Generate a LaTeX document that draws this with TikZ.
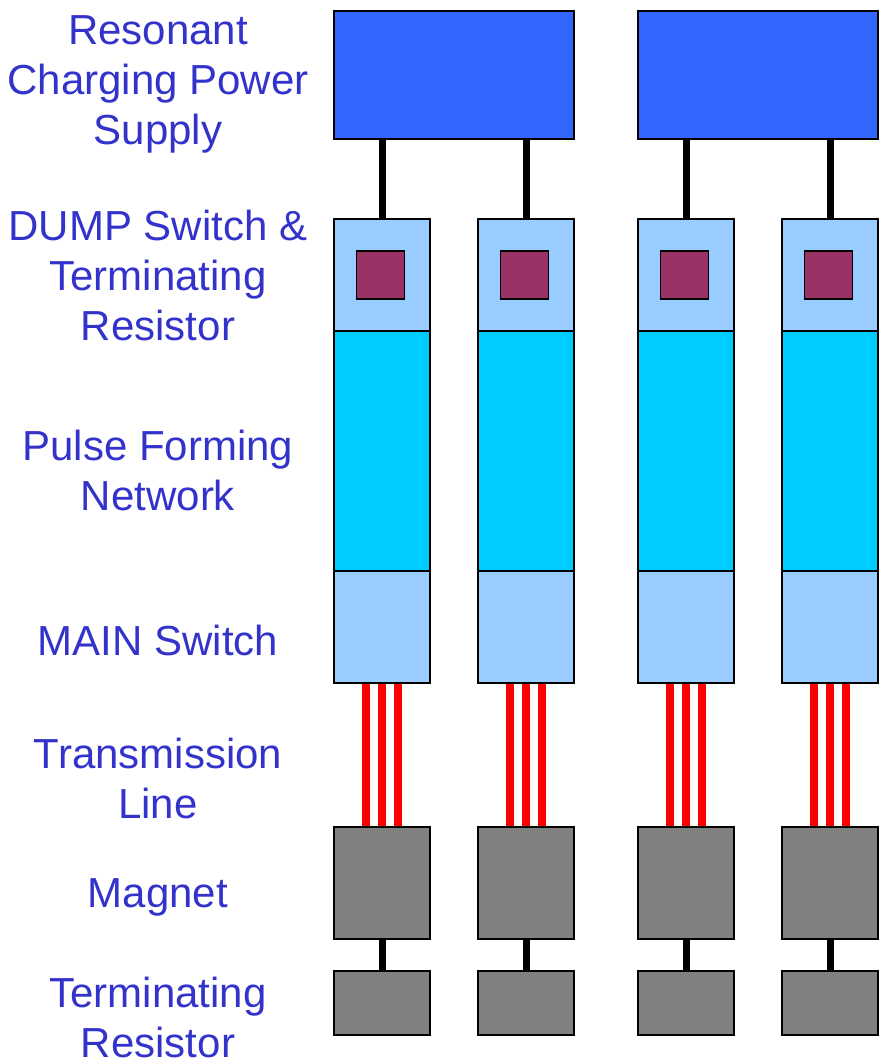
\documentclass[tikz,border=0pt]{standalone}
\usepackage{fontspec}
\setmainfont{Liberation Sans}
\usepackage{tikz}
\definecolor{supblue}{HTML}{3366FF}
\definecolor{lightblue}{HTML}{99CCFF}
\definecolor{pfncyan}{HTML}{00CCFF}
\definecolor{swpurple}{HTML}{993366}
\definecolor{boxgray}{HTML}{808080}
\definecolor{labelblue}{HTML}{3333CC}

\begin{document}
\begin{tikzpicture}[x=0.75pt,y=-0.75pt,
                    blk/.style={draw=black,line width=0.9pt,inner sep=0pt,minimum width=72pt,fill=#1},
                    lbl/.style={text=labelblue,align=center,font=\fontsize{31.5}{37.5}\selectfont},
                    wire/.style={line width=5.25pt},
                    tline/.style={red,line width=6pt}]
  \useasboundingbox (0,0) rectangle (878,1059);
  % labels
  \node[lbl] (lsup) at (158,84) {Resonant\\Charging Power\\Supply};
  \node[lbl] (ldump) at (158,275) {DUMP Switch \&\\Terminating\\Resistor};
  \node[lbl] (lpfn) at (158,470) {Pulse Forming\\Network};
  \node[lbl] (lmain) at (158,640) {MAIN Switch};
  \node[lbl] (ltl) at (158,778) {Transmission\\Line};
  \node[lbl] (lmag) at (158,897) {Magnet};
  \node[lbl] (lterm) at (158,1017) {Terminating\\Resistor};
  % power supplies
  \node[blk=supblue,minimum width=180pt,minimum height=96pt] (sup1) at (454,75) {};
  \node[blk=supblue,minimum width=180pt,minimum height=96pt] (sup2) at (758,75) {};
  % one column per line
  \foreach \i/\cx/\s in {1/382/sup1,2/526/sup1,3/686/sup2,4/830/sup2}{
    \node[blk=pfncyan,minimum height=180pt] (pfn\i) at (\cx,451) {};
    \node[blk=lightblue,minimum height=84pt] (dump\i) at (\cx,275) {};
    \node[blk=swpurple,minimum width=36.5pt,minimum height=36pt] (sw\i) at (\cx-1.5,275) {};
    \node[blk=lightblue,minimum height=84pt] (main\i) at (\cx,627) {};
    \node[blk=boxgray,minimum height=84pt] (mag\i) at (\cx,883) {};
    \node[blk=boxgray,minimum height=48pt] (term\i) at (\cx,1003) {};
    \draw[wire] (dump\i.north) -- (dump\i.north |- \s.south);
    \draw[wire] (mag\i.south) -- (term\i.north);
    \foreach \d in {-12pt,0pt,12pt}
      \draw[tline] ([xshift=\d]main\i.south) -- ([xshift=\d]mag\i.north);
  }
\end{tikzpicture}
\end{document}
